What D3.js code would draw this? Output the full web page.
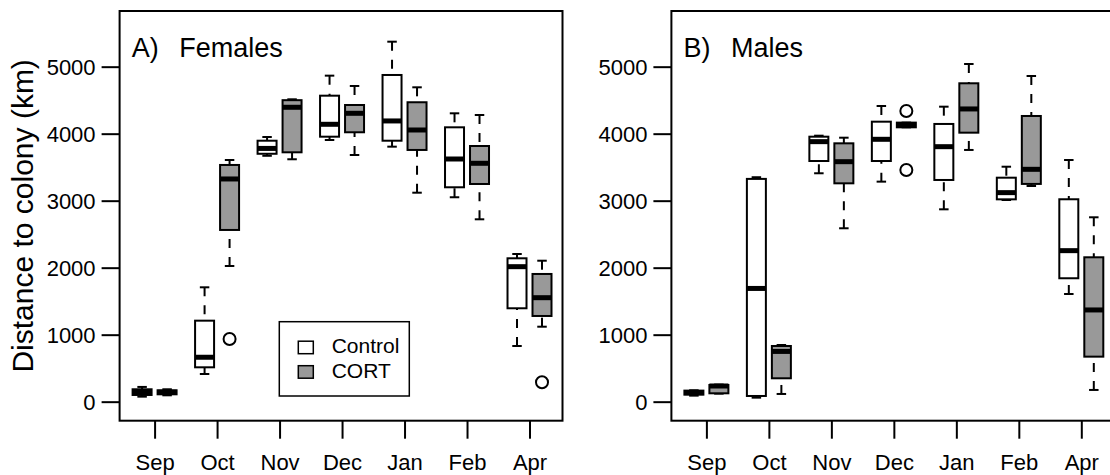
<!DOCTYPE html>
<html>
<head>
<meta charset="utf-8">
<script src="https://cdn.jsdelivr.net/npm/d3@7"></script>
<style>
  body { margin: 0; background: #fff; }
  text { font-family: "Liberation Sans", Arial, sans-serif; fill: #000; }
</style>
</head>
<body>
<div id="chart"></div>
<script>
// months on the x axis, two treatment groups per month
var months = ["Sep", "Oct", "Nov", "Dec", "Jan", "Feb", "Apr"];
var groups = ["Control", "CORT"];
var yTicks = [0, 1000, 2000, 3000, 4000, 5000];

// box stats per month: [lower whisker, q1, median, q3, upper whisker] (km)
var femControl = [[75, 100, 145, 185, 220], [413, 513, 663, 1209, 1707], [3670, 3700, 3780, 3895, 3950],
  [3906, 3955, 4140, 4567, 4866], [3806, 3895, 4190, 4876, 5373], [3051, 3200, 3622, 4095, 4304],
  [831, 1394, 2015, 2140, 2204]];
var femCort = [[95, 110, 140, 170, 185], [2025, 2563, 3324, 3533, 3607], [3618, 3722, 4394, 4500, 4513],
  [3682, 4021, 4304, 4428, 4712], [3119, 3757, 4055, 4469, 4692], [2722, 3249, 3558, 3816, 4279],
  [1119, 1279, 1552, 1906, 2104]];
var maleControl = [[90, 105, 135, 165, 170], [60, 85, 1690, 3325, 3350], [3409, 3592, 3881, 3955, 3970],
  [3284, 3592, 3916, 4179, 4413], [2871, 3309, 3806, 4145, 4403], [3010, 3020, 3120, 3343, 3507],
  [1607, 1842, 2254, 3021, 3607]];
var maleCort = [[120, 125, 234, 249, 255], [115, 349, 750, 831, 846], [2588, 3259, 3582, 3856, 3940],
  [4095, 4095, 4130, 4165, 4165], [3757, 4015, 4369, 4752, 5040], [3219, 3250, 3468, 4264, 4861],
  [175, 672, 1369, 2155, 2752]];

// outliers: [month index, group index, value]
var femOutliers = [[1, 1, 936], [6, 1, 290]];
var maleOutliers = [[3, 1, 4339], [3, 1, 3458]];

var fill = { "Control": "#ffffff", "CORT": "#999999" };

var width = 1110, height = 475;
var panelW = 442.9, panelH = 409.7, panelTop = 11;

var svg = d3.select("#chart").append("svg")
  .attr("width", width)
  .attr("height", height);

// positions in box units: pairs 1 apart, months 2.5 apart
function boxPos(m, g) { return 1 + 2.5 * m + g; }

var x = d3.scaleLinear().domain([0.1, 17.82]).range([0, panelW]);
var y = d3.scaleLinear().domain([-284, 5831]).range([panelH, 0]);
var boxW = x(0.76) - x(0);

function draw_panel(left, letter, title, control, cort, outliers) {
  var g = svg.append("g").attr("transform", "translate(" + left + "," + panelTop + ")");

  // y axis
  var ya = g.append("g")
    .call(d3.axisLeft(y).tickValues(yTicks).tickSize(18).tickPadding(6).tickFormat(d3.format("d")));
  ya.select(".domain").remove();
  ya.selectAll("line").attr("stroke", "#000").attr("stroke-width", 2);
  ya.selectAll("text").style("font-size", "22px").attr("dy", "0.36em");

  // x axis
  var xa = g.append("g")
    .attr("transform", "translate(0," + panelH + ")")
    .call(d3.axisBottom(x).tickValues(months.map(function (d, i) { return 1.5 + 2.5 * i; }))
      .tickSize(18).tickPadding(16).tickFormat(function (d, i) { return months[i]; }));
  xa.select(".domain").remove();
  xa.selectAll("line").attr("stroke", "#000").attr("stroke-width", 2);
  xa.selectAll("text").style("font-size", "22px");

  var boxes = [];
  [control, cort].forEach(function (series, gi) {
    series.forEach(function (s, mi) {
      boxes.push({ m: mi, g: gi, s: s });
    });
  });

  var b = g.selectAll(".box").data(boxes).enter().append("g").attr("class", "box");

  // whiskers, drawn from the extreme toward the box so the dashes start at the cap
  b.append("line")
    .attr("x1", function (d) { return x(boxPos(d.m, d.g)); })
    .attr("x2", function (d) { return x(boxPos(d.m, d.g)); })
    .attr("y1", function (d) { return y(d.s[4]); })
    .attr("y2", function (d) { return y(d.s[3]); })
    .attr("stroke", "#000").attr("stroke-width", 2).attr("stroke-dasharray", "9,9");
  b.append("line")
    .attr("x1", function (d) { return x(boxPos(d.m, d.g)); })
    .attr("x2", function (d) { return x(boxPos(d.m, d.g)); })
    .attr("y1", function (d) { return y(d.s[0]); })
    .attr("y2", function (d) { return y(d.s[1]); })
    .attr("stroke", "#000").attr("stroke-width", 2).attr("stroke-dasharray", "9,9");

  // staples
  [0, 4].forEach(function (k) {
    b.append("line")
      .attr("x1", function (d) { return x(boxPos(d.m, d.g)) - boxW / 4; })
      .attr("x2", function (d) { return x(boxPos(d.m, d.g)) + boxW / 4; })
      .attr("y1", function (d) { return y(d.s[k]); })
      .attr("y2", function (d) { return y(d.s[k]); })
      .attr("stroke", "#000").attr("stroke-width", 2);
  });

  b.append("rect")
    .attr("x", function (d) { return x(boxPos(d.m, d.g)) - boxW / 2; })
    .attr("width", boxW)
    .attr("y", function (d) { return y(d.s[3]); })
    .attr("height", function (d) { return y(d.s[1]) - y(d.s[3]); })
    .attr("fill", function (d) { return fill[groups[d.g]]; })
    .attr("stroke", "#000").attr("stroke-width", 2);

  b.append("line")
    .attr("x1", function (d) { return x(boxPos(d.m, d.g)) - boxW / 2; })
    .attr("x2", function (d) { return x(boxPos(d.m, d.g)) + boxW / 2; })
    .attr("y1", function (d) { return y(d.s[2]); })
    .attr("y2", function (d) { return y(d.s[2]); })
    .attr("stroke", "#000").attr("stroke-width", 5);

  g.selectAll(".outlier").data(outliers).enter().append("circle")
    .attr("class", "outlier")
    .attr("cx", function (d) { return x(boxPos(d[0], d[1])); })
    .attr("cy", function (d) { return y(d[2]); })
    .attr("r", 6)
    .attr("fill", "none").attr("stroke", "#000").attr("stroke-width", 2);

  // frame
  g.append("rect")
    .attr("width", panelW).attr("height", panelH)
    .attr("fill", "none").attr("stroke", "#000").attr("stroke-width", 2);

  g.append("text").attr("x", 12.1).attr("y", 45.7).style("font-size", "27px").text(letter);
  g.append("text").attr("x", 59.7).attr("y", 45.7).style("font-size", "27px").text(title);
  return g;
}

draw_panel(119.6, "A)", "Females", femControl, femCort, femOutliers);
draw_panel(671.4, "B)", "Males", maleControl, maleCort, maleOutliers);

svg.append("text")
  .attr("transform", "translate(33," + (panelTop + panelH / 2) + ") rotate(-90)")
  .attr("text-anchor", "middle")
  .style("font-size", "30px")
  .text("Distance to colony (km)");

// legend
var lg = svg.append("g").attr("transform", "translate(279.3,321.7)");
lg.append("rect").attr("width", 130).attr("height", 74.3)
  .attr("fill", "#fff").attr("stroke", "#000").attr("stroke-width", 1.5);
groups.forEach(function (name, i) {
  lg.append("rect")
    .attr("x", 19).attr("y", 19.5 + i * 24.5)
    .attr("width", 15).attr("height", 12.5)
    .attr("fill", fill[name]).attr("stroke", "#000").attr("stroke-width", 1.5);
  lg.append("text")
    .attr("x", 52.4).attr("y", 31.6 + i * 25)
    .style("font-size", "21px")
    .text(name);
});
</script>
</body>
</html>
